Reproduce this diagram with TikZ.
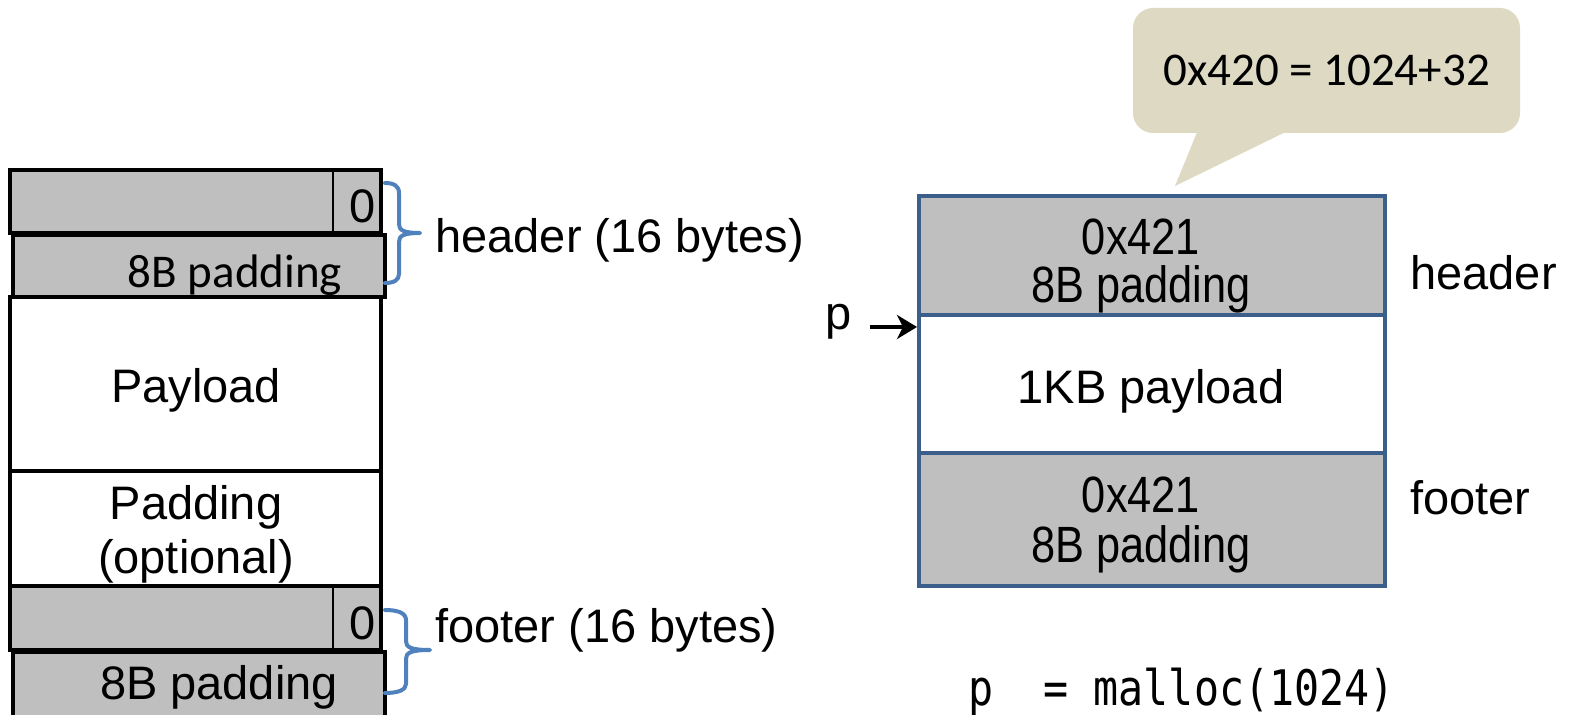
\documentclass[tikz,border=0pt]{standalone}
\usepackage{fontspec}
\setmainfont{Liberation Sans}
\setmonofont{DejaVu Sans Mono}
\newfontfamily\calibrifont{Carlito}
\usetikzlibrary{arrows.meta}
\definecolor{cellgray}{RGB}{191,191,191}
\definecolor{boxblue}{RGB}{59,94,138}
\definecolor{braceblue}{RGB}{79,129,189}
\definecolor{notefill}{RGB}{221,217,195}
\newcommand{\squeeze}[1]{\scalebox{0.85}[1]{#1}}

\begin{document}
\begin{tikzpicture}[x=0.5pt,y=0.5pt,yscale=-1,xscale=1,
  txt/.style={inner sep=0pt, font=\fontsize{23.5}{28}\selectfont},
  tall/.style={inner sep=0pt, font=\fontsize{25.5}{30}\selectfont},
  cal/.style={inner sep=0pt, font=\calibrifont\fontsize{23.5}{28}\selectfont},
  cell/.style={draw=black, line width=2.2pt, fill=cellgray},
  blank/.style={draw=black, line width=2.2pt, fill=white},
  bluecell/.style={draw=boxblue, line width=2pt},
  curly/.style={draw=braceblue, line width=2pt, line cap=round, line join=round}]
\useasboundingbox (0,0) rectangle (1575,715);
%Left block: header
\draw [cell] (10,170) rectangle (381,233) ;
\draw [line width=0.6pt] (333,170) -- (333,233) ;
\draw [cell] (13,235) rectangle (385,297) ;
%Left block: payload and padding
\draw [blank] (10,297) rectangle (381,471) ;
\draw [blank] (10,471) rectangle (381,586) ;
%Left block: footer
\draw [cell] (10,586) rectangle (381,650) ;
\draw [line width=0.6pt] (333,586) -- (333,650) ;
\draw [cell] (13,652) rectangle (385,730) ;
% Text Node
\node (hzero) [txt, anchor=base] at (363,223) {0};
\node (hpad) [cal, anchor=base] at (235,288) {8B padding};
\node (payload) [txt, anchor=base] at (196,403) {Payload};
\node (padA) [txt, anchor=base] at (196,520) {Padding};
\node (padB) [txt, anchor=base] at (196,574) {(optional)};
\node (fzero) [txt, anchor=base] at (363,640) {0};
\node (fpad) [txt, anchor=base] at (219,700) {8B padding};
%Curly braces
\draw [curly] (385,183) .. controls (394,183) and (399,186) .. (399,193) -- (399,224) .. controls (399,230) and (403,233) .. (420,233) .. controls (403,233) and (399,236) .. (399,242) -- (399,274) .. controls (399,280) and (394,283) .. (385,283) ;
\draw [curly] (385,610) .. controls (398,610) and (406,613) .. (406,620) -- (406,641) .. controls (406,647) and (410,650) .. (430,650) .. controls (410,650) and (406,653) .. (406,659) -- (406,684) .. controls (406,690) and (398,693) .. (385,693) ;
% Text Node
\node (hlabel) [txt, anchor=base west] at (435,253) {header (16 bytes)};
\node (flabel) [txt, anchor=base west] at (435,643) {footer (16 bytes)};
%Right block
\fill [cellgray] (919,196) rectangle (1385,315) ;
\fill [cellgray] (919,453) rectangle (1385,586) ;
\draw [bluecell] (919,196) rectangle (1385,586) ;
\draw [bluecell] (919,315) -- (1385,315) ;
\draw [bluecell] (919,453) -- (1385,453) ;
% Text Node
\node (rhexA) [tall, anchor=base] at (1141,255) {\squeeze{0x421}};
\node (rpadA) [tall, anchor=base] at (1141,303) {\squeeze{8B padding}};
\node (rpayload) [txt, anchor=base] at (1151,404) {1KB payload};
\node (rhexB) [tall, anchor=base] at (1141,513) {\squeeze{0x421}};
\node (rpadB) [tall, anchor=base] at (1141,563) {\squeeze{8B padding}};
\node (rheader) [txt, anchor=base west] at (1410,290) {header};
\node (rfooter) [txt, anchor=base west] at (1410,515) {footer};
%Pointer p
\node (p) [txt, anchor=base west] at (825,330) {p};
\coordinate (pin) at (917,327);
\draw [-{Stealth[length=10pt,width=12pt,inset=3pt]}, line width=2pt, shorten <=9pt] (p.east |- pin) -- (pin) ;
%Callout
\fill [notefill] (1200,125) -- (1175,186) -- (1300,125) -- cycle ;
\node (note) [cal, fill=notefill, rounded corners=10pt, minimum width=193.5pt, minimum height=62.5pt] at (1326.5,70.5) {0x420 = 1024+32};
% Text Node
\node (call) [anchor=base west, inner sep=0pt, font=\ttfamily\fontsize{24.5}{29}\selectfont] at (968,705) {\scalebox{0.85}[1]{p\ \ =\ malloc(1024)}};
\end{tikzpicture}
\end{document}
